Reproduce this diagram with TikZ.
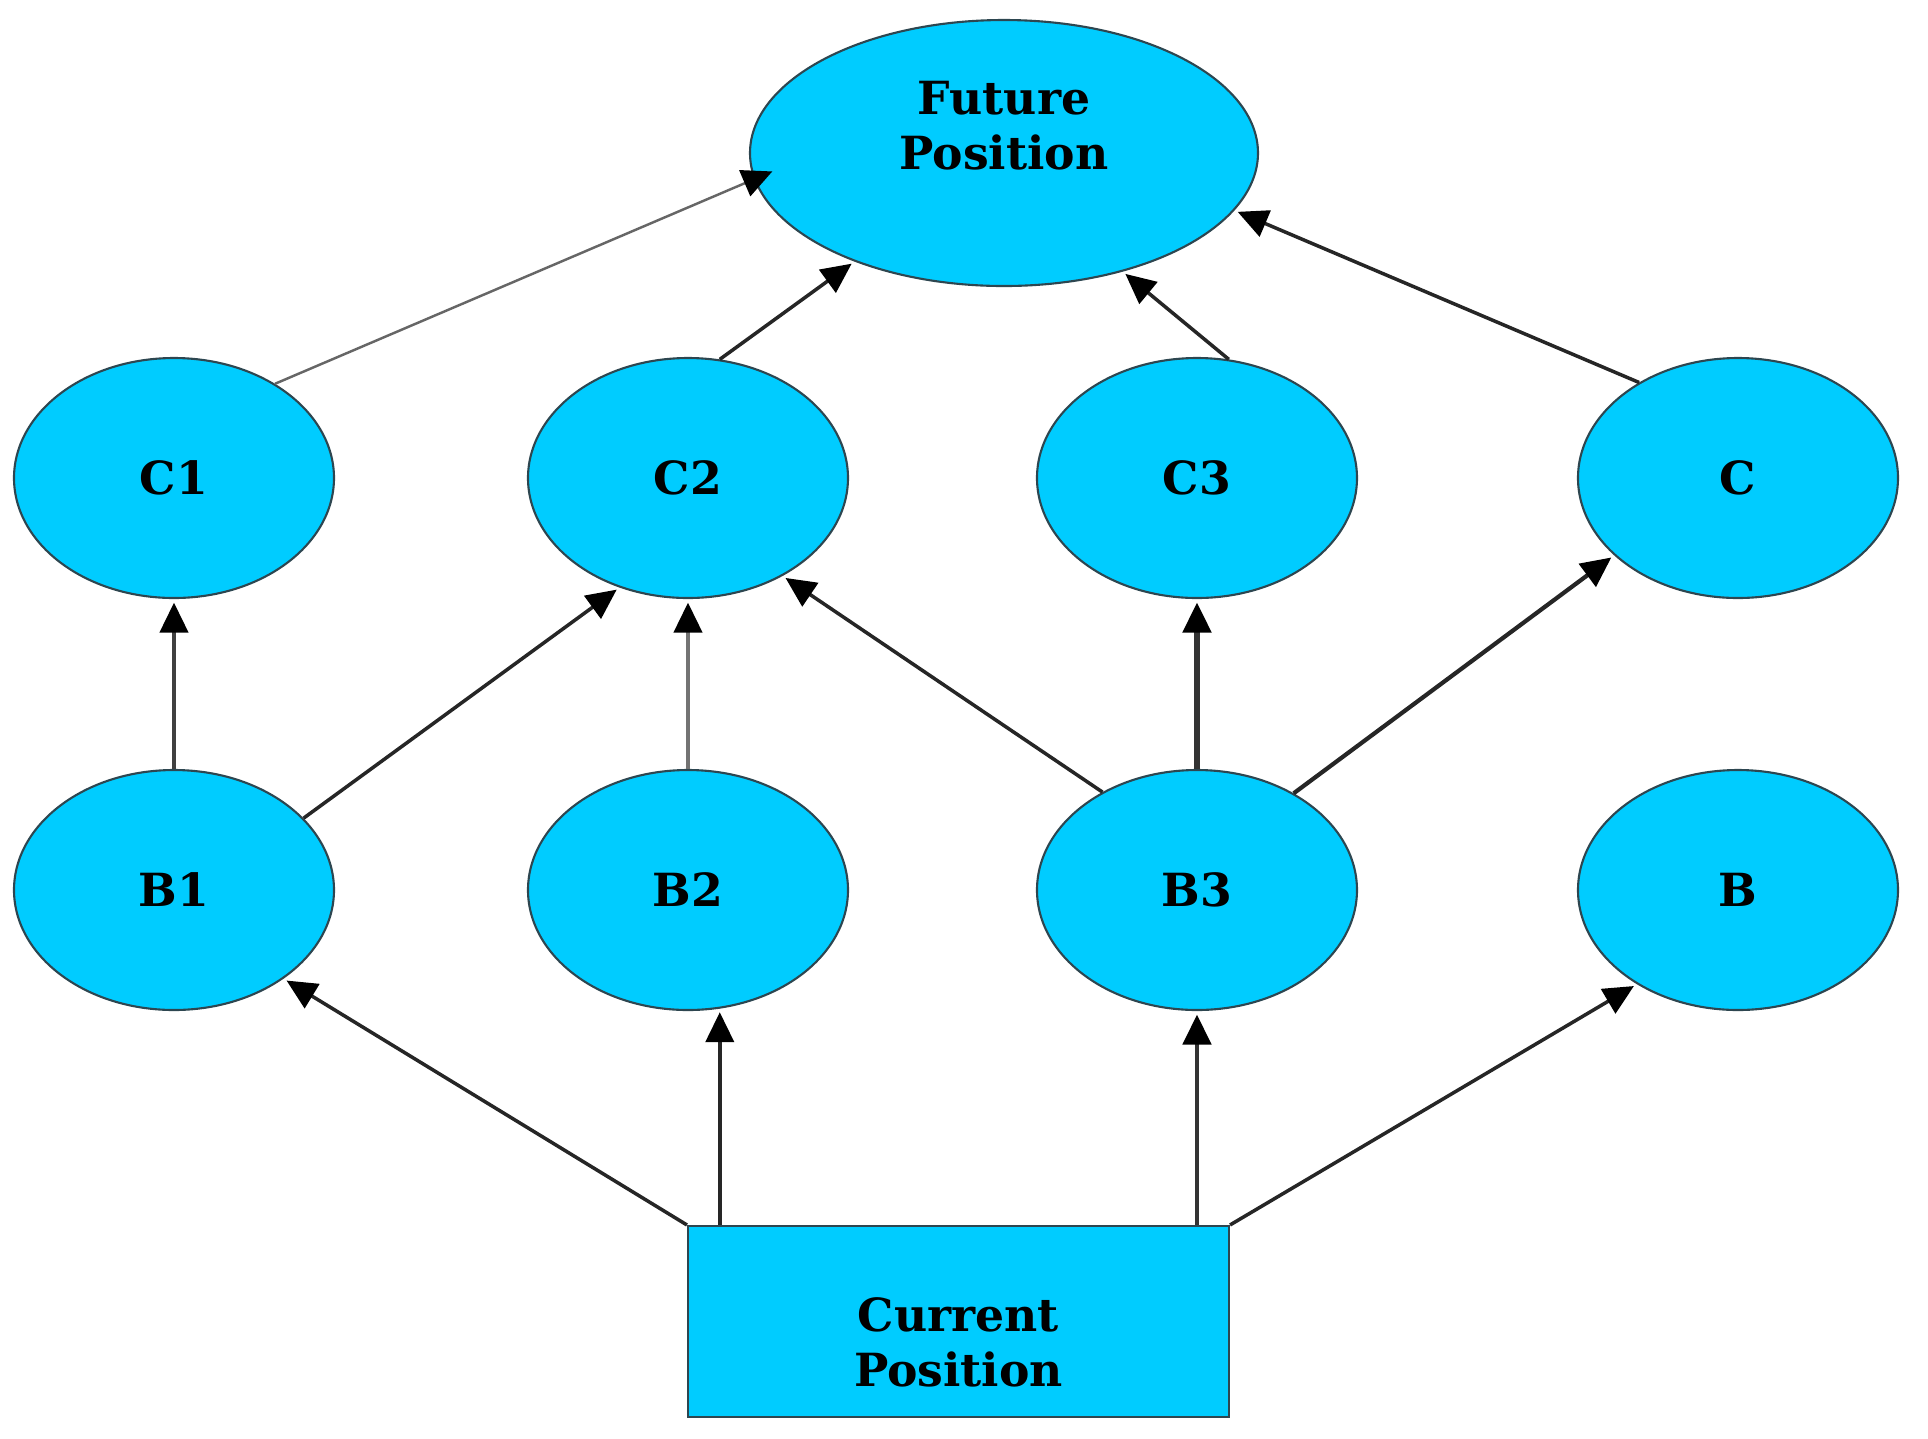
\documentclass[tikz,border=0pt]{standalone}
\usepackage{fontspec}
\setmainfont{DejaVu Serif}
\usetikzlibrary{shapes.geometric,arrows.meta}
\definecolor{nodecyan}{RGB}{0,204,255}
\definecolor{rimgray}{RGB}{45,70,80}
\tikzset{
  posnode/.style={ellipse,draw=rimgray,fill=nodecyan,line width=0.6pt,
    minimum width=32mm,minimum height=24mm,inner sep=0pt,
    font=\bfseries\fontsize{13pt}{15.6pt}\selectfont},
  nowbox/.style={rectangle,draw=rimgray,fill=nodecyan,line width=0.6pt,
    minimum width=54.1mm,minimum height=19.1mm,inner sep=0pt},
  boxtext/.style={align=center,inner sep=0pt,
    font=\bfseries\fontsize{13pt}{15.6pt}\selectfont},
  link/.style={draw=black!85,line width=1pt,shorten >=1pt,
    -{Triangle[length=3mm,width=2.8mm,color=black]}}
}
\begin{document}
\begin{tikzpicture}[x=0.1mm,y=-0.1mm]
    \useasboundingbox (0,0) rectangle (1928,1438);
    %% Positions
    \node[posnode,minimum width=50.8mm,minimum height=26.6mm,
        label={[boxtext,yshift=2.7mm]center:{Future\\Position}}] (future) at (1004,153) {};
    \node[posnode] (c1) at (174,478) {C1};
    \node[posnode] (c2) at (688,478) {C2};
    \node[posnode] (c3) at (1197,478) {C3};
    \node[posnode] (c) at (1738,478) {C};
    \node[posnode] (b1) at (174,890) {B1};
    \node[posnode] (b2) at (688,890) {B2};
    \node[posnode] (b3) at (1197,890) {B3};
    \node[posnode] (b) at (1738,890) {B};
    \node[nowbox,label={[boxtext,yshift=-2.1mm]center:{Current\\Position}}]
        (current) at (958.5,1321.5) {};
    %% Moves from the current position
    \draw[link] (current.north west) -- (b1.-39);
    \draw[link,line width=1.2pt] (b2.-75 |- current.north) -- (b2.-75);
    \draw[link,draw=black!80,line width=1.4pt] (b3.south |- current.north) -- (b3.south);
    \draw[link] (current.north east) -- (b.-137);
    %% Second moves
    \draw[link,draw=black!75,line width=1.2pt] (b1.north) -- (c1.south);
    \draw[link] (b1.29) -- (c2.-122);
    \draw[link,draw=black!55,line width=1.2pt] (b2.north) -- (c2.south);
    \draw[link] (b3.134) -- (c2.-46);
    \draw[link,draw=black!80,line width=1.5pt] (b3.north) -- (c3.south);
    \draw[link,line width=1.2pt] (b3.45) -- (c.-148);
    %% Towards the future position
    \draw[link,draw=black!60,line width=0.7pt,shorten >=-2mm] (c1.43) -- (future.-174);
    \draw[link] (c2.75) -- (future.-144);
    \draw[link] (c3.75) -- (future.-45);
    \draw[link] (c.136) -- (future.-14);
\end{tikzpicture}
\end{document}
